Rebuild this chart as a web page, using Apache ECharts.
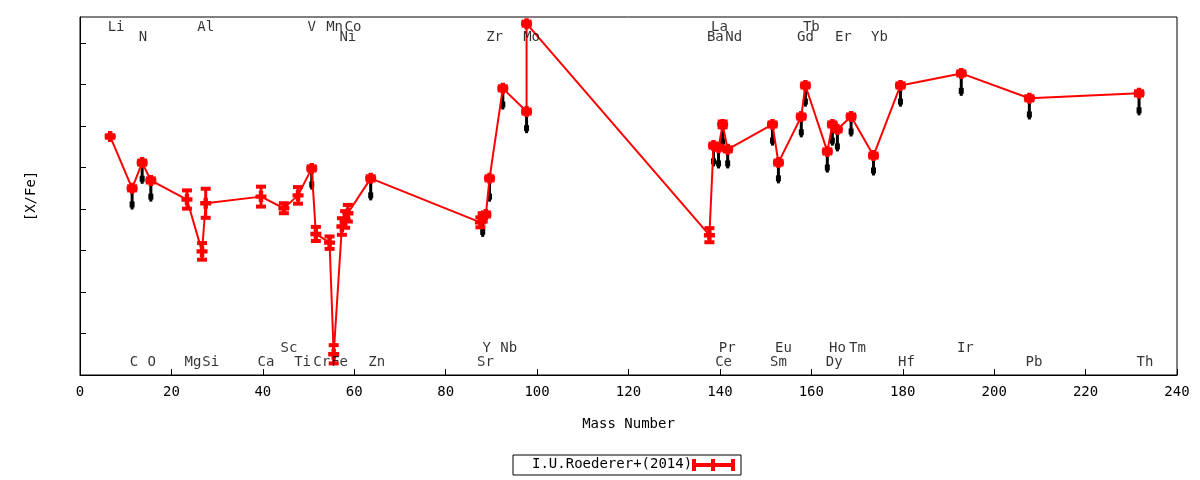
<!DOCTYPE html>
<html><head><meta charset="utf-8">
<script src="https://cdn.jsdelivr.net/npm/echarts@6/dist/echarts.min.js"></script>
<style>html,body{margin:0;background:#fff}#c{width:1200px;height:480px}</style>
</head><body><div id="c"></div>
<script>
var massNum=[6.6,11.4,13.6,15.5,23.4,26.7,27.5,39.6,44.6,47.7,50.7,51.6,54.6,55.5,57.3,58.0,58.6,63.6,87.6,88.1,88.8,89.6,92.5,97.7,97.7,137.7,138.6,139.7,140.6,141.7,151.5,152.8,157.8,158.7,163.5,164.6,165.7,168.7,173.6,179.5,192.8,207.7,231.7];
var xfe=[2.0,0.75,1.37,0.94,0.48,-0.77,0.39,0.55,0.27,0.58,1.23,-0.35,-0.56,-3.25,-0.17,0.0,0.15,0.99,-0.07,0.05,0.12,0.99,3.16,2.6,4.72,-0.38,1.78,1.73,2.29,1.69,2.29,1.37,2.48,3.23,1.64,2.29,2.17,2.48,1.54,3.23,3.52,2.92,3.04];
var xfeErr=[0.03,0.05,0.05,0.05,0.22,0.2,0.35,0.24,0.12,0.2,0.05,0.17,0.15,0.22,0.2,0.2,0.2,0.05,0.12,0.1,0.05,0.05,0.05,0.05,0.05,0.17,0.05,0.05,0.07,0.05,0.05,0.05,0.05,0.05,0.05,0.05,0.05,0.05,0.05,0.05,0.05,0.05,0.05];
var blackVal=[null,0.36,0.98,0.55,null,null,null,null,null,null,0.84,null,null,null,null,null,null,0.58,null,-0.3,null,0.55,2.77,2.2,null,null,1.4,1.35,1.88,1.35,1.9,0.99,2.1,2.84,1.25,1.9,1.76,2.12,1.18,2.84,3.1,2.53,2.63];
var topLabels=['Li','Al','V','Mn','Co','La','Tb'];
var topMass=[7.9,27.5,50.7,55.7,59.7,139.9,160.0];
var top2Labels=['N','Ni','Zr','Mo','Ba','Nd','Gd','Er','Yb'];
var top2Mass=[13.8,58.6,90.7,98.8,139.0,143.0,158.7,167.0,174.9];
var bot1Labels=['Sc','Y','Nb','Pr','Eu','Ho','Tm','Ir'];
var bot1Mass=[45.7,89.0,93.8,141.6,153.9,165.7,170.1,193.7];
var bot2Labels=['C','O','Mg','Si','Ca','Ti','Cr','Fe','Zn','Sr','Ce','Sm','Dy','Hf','Pb','Th'];
var bot2Mass=[11.8,15.7,24.7,28.6,40.7,48.7,52.9,56.8,64.9,88.7,140.8,152.8,165.0,180.8,208.7,233.0];

var F='DejaVu Sans Mono';
function lab(names,mass,y){return names.map(function(n,i){return {value:[mass[i],y],name:n};});}
var labelData=[].concat(lab(topLabels,topMass,4.63),lab(top2Labels,top2Mass,4.39),lab(bot1Labels,bot1Mass,-3.11),lab(bot2Labels,bot2Mass,-3.45));
var redData=massNum.map(function(m,i){return [m,xfe[i],xfeErr[i]];});
var blackData=[];massNum.forEach(function(m,i){if(blackVal[i]!==null)blackData.push([m,xfe[i],blackVal[i]]);});
var cross='path://M3,0h4v3h3v4h-3v3h-4v-3h-3v-4h3z';
var chart=echarts.init(document.getElementById('c'));
chart.setOption({
 animation:false,
 grid:{left:80,right:23,top:17,bottom:105},
 xAxis:{type:'value',min:0,max:240,interval:20,name:'Mass Number',nameLocation:'middle',nameGap:42,
  nameTextStyle:{fontFamily:F,fontSize:14,color:'#000'},
  axisLine:{show:true,onZero:false,lineStyle:{color:'#000'}},axisTick:{inside:true,length:6,lineStyle:{color:'#000'}},
  axisLabel:{fontFamily:F,fontSize:14,color:'#000',margin:10},splitLine:{show:false}},
 yAxis:{type:'value',min:-3.75,max:4.88,interval:1,name:'[X/Fe]',nameLocation:'middle',nameGap:42,
  nameTextStyle:{fontFamily:F,fontSize:14,color:'#000'},
  axisLine:{show:true,onZero:false,lineStyle:{color:'#000'}},axisTick:{inside:true,length:6,lineStyle:{color:'#000'}},
  axisLabel:{fontFamily:F,fontSize:14,color:'#000',margin:10,showMinLabel:false,showMaxLabel:false,
   formatter:function(v){return Math.abs(v-Math.round(v))<1e-6?String(Math.round(v)):'';}},splitLine:{show:false}},
 series:[
  {type:'custom',silent:true,z:2,data:blackData,renderItem:function(p,api){
    var a=api.coord([api.value(0),api.value(1)]),b=api.coord([api.value(0),api.value(2)]);
    return {type:'group',children:[
     {type:'rect',shape:{x:a[0]-1.5,y:a[1],width:3,height:b[1]-a[1]+5},style:{fill:'#000'}},
     {type:'rect',shape:{x:b[0]-2.5,y:b[1]-3,width:5,height:6},style:{fill:'#000'}}]};}},
  {type:'line',data:redData.map(function(d){return [d[0],d[1]];}),z:3,symbol:cross,symbolSize:11,
   lineStyle:{color:'#f00',width:2},itemStyle:{color:'#f00'}},
  {type:'custom',z:4,data:redData,renderItem:function(p,api){
    var x=api.value(0),y=api.value(1),e=api.value(2);
    var hi=api.coord([x,y+e]),lo=api.coord([x,y-e]);
    return {type:'group',children:[
     {type:'rect',shape:{x:hi[0]-1.5,y:hi[1],width:3,height:lo[1]-hi[1]},style:{fill:'#f00'}},
     {type:'rect',shape:{x:hi[0]-5,y:hi[1]-2,width:10,height:4},style:{fill:'#f00'}},
     {type:'rect',shape:{x:lo[0]-5,y:lo[1]-2,width:10,height:4},style:{fill:'#f00'}}]};}},
  {type:'scatter',data:labelData,symbolSize:0,silent:true,z:5,
   label:{show:true,position:'inside',formatter:'{b}',fontFamily:F,fontSize:14,color:'#000'}}
 ],
 graphic:[
  {type:'rect',shape:{x:513,y:455,width:228,height:20},style:{fill:'#fff',stroke:'#000',lineWidth:1}},
  {type:'text',x:532,y:457,style:{text:'I.U.Roederer+(2014)',font:'14px "DejaVu Sans Mono"',fill:'#000'}},
  {type:'rect',shape:{x:692,y:463,width:43,height:4},style:{fill:'#f00'}},
  {type:'rect',shape:{x:692,y:459,width:4,height:12},style:{fill:'#f00'}},
  {type:'rect',shape:{x:731,y:459,width:4,height:12},style:{fill:'#f00'}},
  {type:'rect',shape:{x:711,y:459,width:4,height:12},style:{fill:'#f00'}},
  {type:'rect',shape:{x:80,y:17,width:1097,height:358},style:{fill:'none',stroke:'#000',lineWidth:1},z:10}
 ]
});
</script></body></html>
